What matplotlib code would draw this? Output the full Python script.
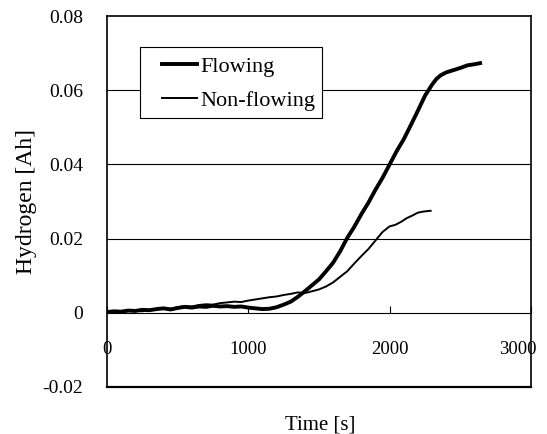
import matplotlib as mpl
mpl.use('Agg')
import matplotlib.pyplot as plt
from matplotlib.patches import Rectangle
from matplotlib.transforms import ScaledTranslation

plt.rcParams['font.family'] = ['Liberation Serif', 'DejaVu Serif']

# flowing case
t_flow = [0, 50, 100, 150, 200, 250, 300, 350, 400, 450, 500, 550, 600, 650, 700, 750,
          800, 850, 900, 950, 1000, 1050, 1100, 1150, 1200, 1250, 1300, 1350, 1400,
          1450, 1500, 1550, 1600, 1650, 1700, 1750, 1800, 1850, 1900, 1950, 2000,
          2050, 2100, 2150, 2200, 2250, 2300, 2330, 2360, 2400, 2450, 2500, 2550,
          2600, 2640]
h_flow = [0.0002, 0.0004, 0.0003, 0.0006, 0.0005, 0.0008, 0.0007, 0.0010, 0.0012, 0.0009,
          0.0013, 0.0016, 0.0014, 0.0017, 0.0016, 0.0019, 0.0017, 0.0018, 0.0016, 0.0017,
          0.0014, 0.0012, 0.0010, 0.0011, 0.0015, 0.0022, 0.0030, 0.0043, 0.0058,
          0.0074, 0.0090, 0.0112, 0.0135, 0.0166, 0.0202, 0.0232, 0.0266, 0.0297, 0.0332,
          0.0364, 0.0400, 0.0436, 0.0468, 0.0506, 0.0545, 0.0585, 0.0615, 0.0630, 0.0640,
          0.0648, 0.0654, 0.0660, 0.0667, 0.0670, 0.0673]

# non-flowing case
t_nonflow = [0, 50, 100, 150, 200, 250, 300, 350, 400, 450, 500, 550, 600, 650, 700, 750,
             800, 850, 900, 950, 1000, 1050, 1100, 1150, 1200, 1250, 1300, 1350, 1400,
             1450, 1500, 1550, 1600, 1650, 1700, 1750, 1800, 1850, 1900, 1950, 2000,
             2040, 2080, 2120, 2160, 2200, 2240, 2290]
h_nonflow = [0.0001, 0.0003, 0.0002, 0.0005, 0.0006, 0.0004, 0.0008, 0.0010, 0.0013, 0.0011,
             0.0015, 0.0018, 0.0017, 0.0021, 0.0023, 0.0022, 0.0026, 0.0028, 0.0030, 0.0029,
             0.0033, 0.0036, 0.0039, 0.0042, 0.0044, 0.0048, 0.0051, 0.0055, 0.0053,
             0.0058, 0.0063, 0.0071, 0.0082, 0.0097, 0.0112, 0.0133, 0.0153, 0.0172, 0.0195,
             0.0218, 0.0233, 0.0237, 0.0245, 0.0255, 0.0262, 0.0270, 0.0273, 0.0275]

x_ticks = [0, 1000, 2000, 3000]
y_ticks = [-0.02, 0, 0.02, 0.04, 0.06, 0.08]
y_labels = ['-0.02', '0', '0.02', '0.04', '0.06', '0.08']

fig = plt.figure(figsize=(5.47, 4.34), dpi=100)
ax = fig.add_axes([0.1956, 0.1083, 0.7751, 0.8548])

for y in [0.02, 0.04, 0.06]:
    ax.axhline(y, color='black', lw=0.8, zorder=1)

ax.plot(t_flow, h_flow, color='black', lw=2.8, label='Flowing', zorder=3)
ax.plot(t_nonflow, h_nonflow, color='black', lw=1.4, label='Non-flowing', zorder=3)

ax.set_xlim(0, 3000)
ax.set_ylim(-0.02, 0.08)

# x axis crosses at y=0, frame kept at -0.02
ax.spines['bottom'].set_position(('data', 0))
ax.spines['bottom'].set_linewidth(0.8)
ax.axhline(-0.02, color='black', lw=1.6, zorder=4, clip_on=False)
for s in ['left', 'right', 'top']:
    ax.spines[s].set_linewidth(1.2)

ax.set_xticks(x_ticks)
ax.set_yticks(y_ticks)
ax.set_yticklabels(y_labels)
ax.tick_params(axis='x', direction='in', length=5, width=0.8, pad=20, labelsize=13.5)
ax.tick_params(axis='y', length=0, pad=17, labelsize=14)

# last x label squeezed inside the figure edge
last = ax.get_xticklabels()[-1]
last.set_horizontalalignment('right')
last.set_transform(last.get_transform() + ScaledTranslation(6 / 100, 0, fig.dpi_scale_trans))

ax.set_ylabel('Hydrogen [Ah]', fontsize=17, labelpad=4)
fig.text(320 / 547, 1 - 425 / 434, 'Time [s]', fontsize=15, ha='center', va='center')

# legend frame drawn separately so the padding matches
ax.add_patch(Rectangle((0.0777, 0.7251), 0.4287, 0.1914, transform=ax.transAxes,
                       facecolor='white', edgecolor='black', lw=0.8, zorder=5))
leg = ax.legend(loc='upper left', bbox_to_anchor=(0.1296, 0.891), fontsize=16,
                frameon=False, handlelength=1.6, handletextpad=0.15, borderpad=0,
                labelspacing=0.6, borderaxespad=0)
leg.set_zorder(6)

fig.savefig('out.png', dpi=100)
